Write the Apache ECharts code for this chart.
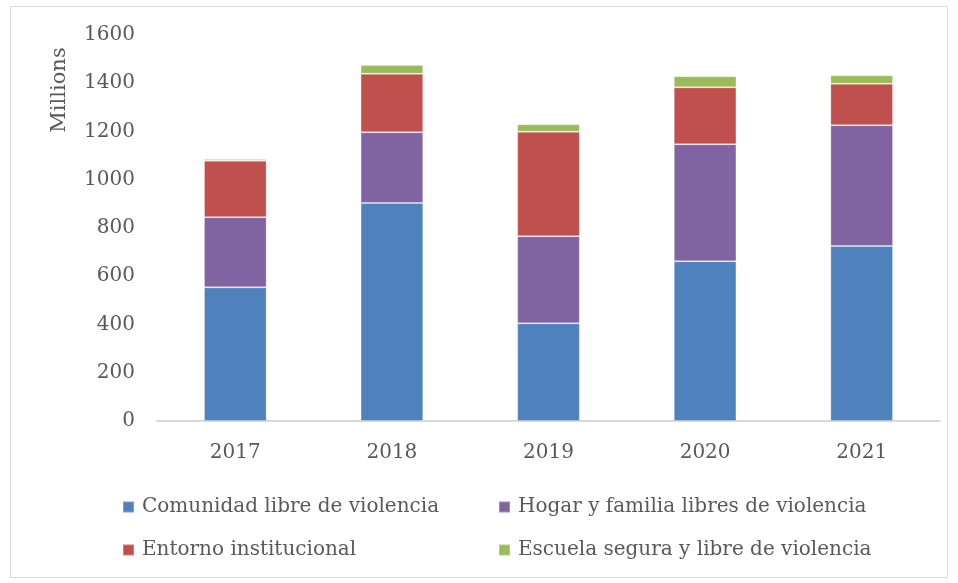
<!DOCTYPE html>
<html>
<head>
<meta charset="utf-8">
<script src="https://cdn.jsdelivr.net/npm/echarts@6/dist/echarts.min.js"></script>
<style>
  html, body { margin: 0; padding: 0; background: #fff; }
  #chart { width: 958px; height: 583px; }
</style>
</head>
<body>
<div id="chart"></div>
<script>
  // categorías (años) y valores en millones
  var years = ['2017', '2018', '2019', '2020', '2021'];
  var comunidad = [554, 904, 405, 662, 725];
  var hogar = [291, 293, 361, 485, 501];
  var entorno = [234, 242, 433, 236, 172];
  var escuela = [7, 37, 31, 46, 35];
  var seriesNames = ['Comunidad libre de violencia', 'Hogar y familia libres de violencia',
    'Entorno institucional', 'Escuela segura y libre de violencia'];
  var colors = ['#4f81bd', '#8064a2', '#c0504d', '#9bbb59'];

  var chartDom = document.getElementById('chart');
  var myChart = echarts.init(chartDom);

  var font = 'DejaVu Serif';
  var textColor = '#595959';

  function legendAt(name, left, top) {
    return {
      data: [name],
      left: left,
      top: top,
      itemWidth: 11,
      itemHeight: 11,
      icon: 'rect',
      itemGap: 4,
      textStyle: { fontFamily: font, fontSize: 20, color: textColor, padding: [0, 0, 0, 3] }
    };
  }

  function barSeries(i, values) {
    return {
      name: seriesNames[i],
      type: 'bar',
      stack: 'total',
      barCategoryGap: '60%',
      itemStyle: { color: colors[i], borderColor: 'rgba(255,255,255,0.25)', borderWidth: 1 },
      data: values
    };
  }

  var option = {
    animation: false,
    color: colors,
    grid: { left: 157, right: 18, top: 35, bottom: 162 },
    legend: [
      legendAt(seriesNames[0], 117, 492),
      legendAt(seriesNames[1], 493, 492),
      legendAt(seriesNames[2], 117, 535),
      legendAt(seriesNames[3], 493, 535)
    ],
    graphic: [
      {
        type: 'rect',
        shape: { x: 10.5, y: 6.5, width: 937, height: 571 },
        style: { fill: 'none', stroke: '#d9d9d9', lineWidth: 1 }
      },
      {
        type: 'text',
        x: 60,
        y: 90,
        rotation: Math.PI / 2,
        style: {
          text: 'Millions',
          fontFamily: font,
          fontSize: 21,
          fill: textColor,
          align: 'center',
          verticalAlign: 'middle'
        }
      }
    ],
    xAxis: {
      type: 'category',
      data: years,
      axisLine: { lineStyle: { color: '#d9d9d9', width: 2 } },
      axisTick: { show: false },
      axisLabel: { fontFamily: font, fontSize: 20, color: textColor, margin: 22 }
    },
    yAxis: {
      type: 'value',
      min: 0,
      max: 1600,
      interval: 200,
      axisLine: { show: false },
      axisTick: { show: false },
      splitLine: { show: false },
      axisLabel: {
        fontFamily: font, fontSize: 20, color: textColor, margin: 22,
        formatter: function (v) { return String(v); }
      }
    },
    series: [
      barSeries(0, comunidad),
      barSeries(1, hogar),
      barSeries(2, entorno),
      barSeries(3, escuela)
    ]
  };

  option && myChart.setOption(option);
</script>
</body>
</html>
